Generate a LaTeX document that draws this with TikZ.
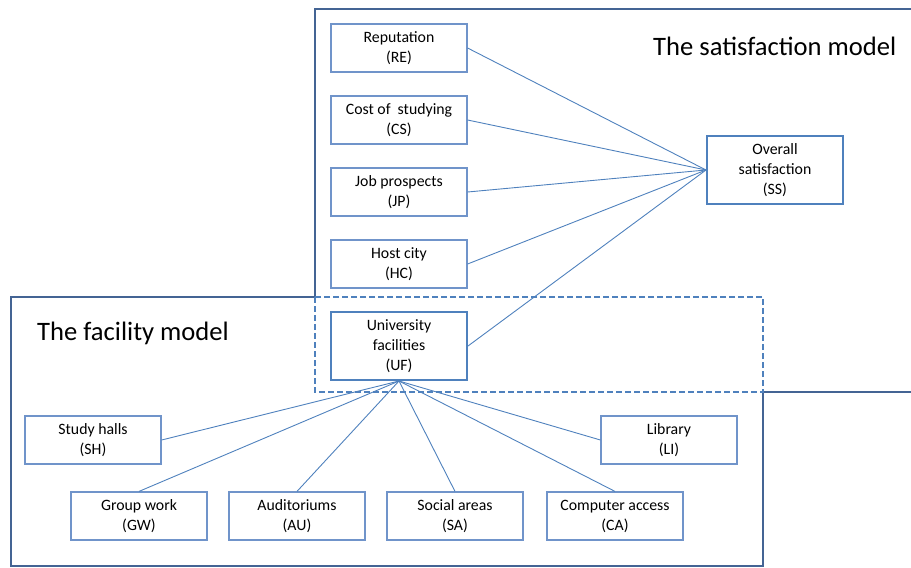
\documentclass[tikz,border=0pt]{standalone}
\usepackage{fontspec}
\setmainfont{Carlito}
\usetikzlibrary{positioning}
\definecolor{frameBlue}{RGB}{68,100,148}
\definecolor{boxBlue}{RGB}{112,148,202}
\definecolor{lineBlue}{RGB}{79,129,189}
\tikzset{
  factor/.style={
    rectangle,
    draw=boxBlue,
    line width=1.2pt,
    minimum width=136pt,
    minimum height=48pt,
    inner sep=0pt,
    align=center,
    font=\fontsize{15.8}{20}\selectfont
  }
}
\tikzset{
  outcome/.style={
    factor,
    draw=lineBlue,
    line width=2pt,
    minimum height=68pt
  }
}
\tikzset{
  link/.style={draw=lineBlue, line width=0.9pt},
  modelFrame/.style={draw=frameBlue, line width=2pt},
  modelTitle/.style={anchor=west, inner sep=0pt, font=\fontsize{26.6}{30}\selectfont}
}

\begin{document}
\begin{tikzpicture}[x=1pt, y=-1pt, node distance=22.8pt]
    \useasboundingbox (0,0) rectangle (911,568);

    % frames of the two models
    \draw[modelFrame] (911,9) -- (315,9) -- (315,297);
    \draw[modelFrame] (763,392) -- (911,392);
    \draw[modelFrame] (315,297) -- (11,297) -- (11,566) -- (763,566) -- (763,392);
    \draw[draw=lineBlue, line width=2pt, dashed, dash pattern=on 6pt off 3pt]
      (315,297) rectangle (763,392);

    \node[modelTitle] (satTitle) at (653,46) {The satisfaction model};
    \node[modelTitle] (facTitle) at (37,333) {The facility model};

    % satisfaction model
    \node[factor] (RE) at (399,48) {Reputation\\(RE)};
    \node[factor, below=of RE] (CS) {Cost of~ studying\\(CS)};
    \node[factor, below=of CS] (JP) {Job prospects\\(JP)};
    \node[factor, below=of JP] (HC) {Host city\\(HC)};
    \node[outcome] (UF) at (399,346) {University\\facilities\\(UF)};
    \node[outcome] (SS) at (775,170) {Overall\\satisfaction\\(SS)};

    % facility model
    \node[factor] (SH) at (93,440) {Study halls\\(SH)};
    \node[factor] (LI) at (669,440) {Library\\(LI)};
    \node[factor] (GW) at (139,516) {Group work\\(GW)};
    \node[factor, right=20.8pt of GW] (AU) {Auditoriums\\(AU)};
    \node[factor, right=20.8pt of AU] (SA) {Social areas\\(SA)};
    \node[factor, right=22.8pt of SA] (CA) {Computer access\\(CA)};

    \foreach \src in {RE, CS, JP, HC, UF}{
      \draw[link] (\src.east) -- (SS.west);
    }
    \foreach \dst/\side in {SH/east, GW/north, AU/north, SA/north, CA/north, LI/west}{
      \draw[link] (UF.south) -- (\dst.\side);
    }
\end{tikzpicture}
\end{document}
